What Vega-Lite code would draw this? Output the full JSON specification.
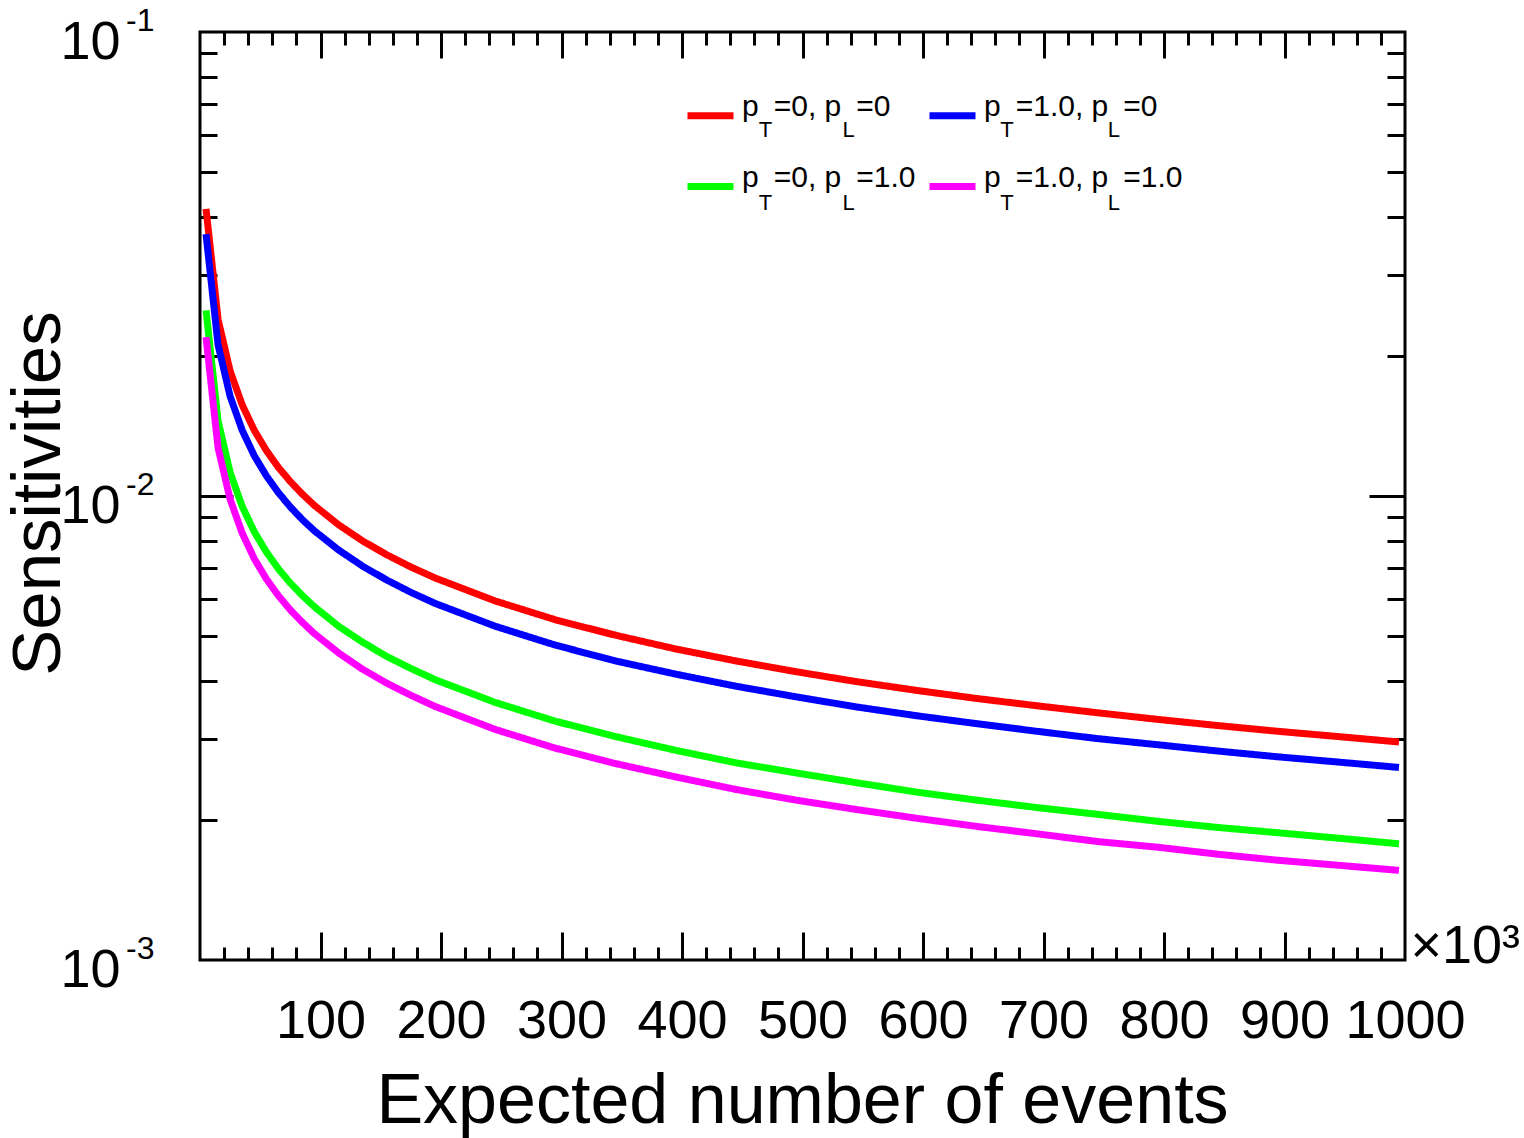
{
  "$schema": "https://vega.github.io/schema/vega-lite/v6.json",
  "width": 1205,
  "height": 928,
  "autosize": "none",
  "padding": {"left": 200, "top": 32, "right": 119, "bottom": 178},
  "background": "white",
  "config": {
    "font": "Liberation Sans",
    "view": {"stroke": "black", "strokeWidth": 3},
    "axis": {"labelColor": "black", "titleColor": "black", "titleFontWeight": "normal", "tickColor": "black", "tickWidth": 3, "grid": false, "labelFont": "Liberation Sans", "titleFont": "Liberation Sans", "domain": false},
    "legend": {"labelColor": "black", "labelFont": "Liberation Sans", "padding": 0}
  },
  "data": {"values": [
    {"n":5,"s":0.04159,"g":"pT=0, pL=0","id":"a"},{"n":15,"s":0.02401,"g":"pT=0, pL=0","id":"a"},{"n":25,"s":0.01860,"g":"pT=0, pL=0","id":"a"},{"n":35,"s":0.01572,"g":"pT=0, pL=0","id":"a"},{"n":45,"s":0.01386,"g":"pT=0, pL=0","id":"a"},{"n":55,"s":0.01254,"g":"pT=0, pL=0","id":"a"},{"n":65,"s":0.01153,"g":"pT=0, pL=0","id":"a"},{"n":75,"s":0.01074,"g":"pT=0, pL=0","id":"a"},{"n":85,"s":0.01009,"g":"pT=0, pL=0","id":"a"},{"n":95,"s":0.00954,"g":"pT=0, pL=0","id":"a"},{"n":115,"s":0.00867,"g":"pT=0, pL=0","id":"a"},{"n":135,"s":0.00800,"g":"pT=0, pL=0","id":"a"},{"n":155,"s":0.00747,"g":"pT=0, pL=0","id":"a"},{"n":175,"s":0.00703,"g":"pT=0, pL=0","id":"a"},{"n":195,"s":0.00666,"g":"pT=0, pL=0","id":"a"},{"n":245,"s":0.00594,"g":"pT=0, pL=0","id":"a"},{"n":295,"s":0.00541,"g":"pT=0, pL=0","id":"a"},{"n":345,"s":0.00501,"g":"pT=0, pL=0","id":"a"},{"n":395,"s":0.00468,"g":"pT=0, pL=0","id":"a"},{"n":445,"s":0.00441,"g":"pT=0, pL=0","id":"a"},{"n":495,"s":0.00418,"g":"pT=0, pL=0","id":"a"},{"n":545,"s":0.00398,"g":"pT=0, pL=0","id":"a"},{"n":595,"s":0.00381,"g":"pT=0, pL=0","id":"a"},{"n":645,"s":0.00366,"g":"pT=0, pL=0","id":"a"},{"n":695,"s":0.00353,"g":"pT=0, pL=0","id":"a"},{"n":745,"s":0.00341,"g":"pT=0, pL=0","id":"a"},{"n":795,"s":0.00330,"g":"pT=0, pL=0","id":"a"},{"n":845,"s":0.00320,"g":"pT=0, pL=0","id":"a"},{"n":895,"s":0.00311,"g":"pT=0, pL=0","id":"a"},{"n":945,"s":0.00303,"g":"pT=0, pL=0","id":"a"},{"n":995,"s":0.00295,"g":"pT=0, pL=0","id":"a"},
    {"n":5,"s":0.03667,"g":"pT=1.0, pL=0","id":"b"},{"n":15,"s":0.02117,"g":"pT=1.0, pL=0","id":"b"},{"n":25,"s":0.01640,"g":"pT=1.0, pL=0","id":"b"},{"n":35,"s":0.01386,"g":"pT=1.0, pL=0","id":"b"},{"n":45,"s":0.01222,"g":"pT=1.0, pL=0","id":"b"},{"n":55,"s":0.01106,"g":"pT=1.0, pL=0","id":"b"},{"n":65,"s":0.01017,"g":"pT=1.0, pL=0","id":"b"},{"n":75,"s":0.00947,"g":"pT=1.0, pL=0","id":"b"},{"n":85,"s":0.00889,"g":"pT=1.0, pL=0","id":"b"},{"n":95,"s":0.00841,"g":"pT=1.0, pL=0","id":"b"},{"n":115,"s":0.00765,"g":"pT=1.0, pL=0","id":"b"},{"n":135,"s":0.00706,"g":"pT=1.0, pL=0","id":"b"},{"n":155,"s":0.00659,"g":"pT=1.0, pL=0","id":"b"},{"n":175,"s":0.00620,"g":"pT=1.0, pL=0","id":"b"},{"n":195,"s":0.00587,"g":"pT=1.0, pL=0","id":"b"},{"n":245,"s":0.00524,"g":"pT=1.0, pL=0","id":"b"},{"n":295,"s":0.00477,"g":"pT=1.0, pL=0","id":"b"},{"n":345,"s":0.00441,"g":"pT=1.0, pL=0","id":"b"},{"n":395,"s":0.00413,"g":"pT=1.0, pL=0","id":"b"},{"n":445,"s":0.00389,"g":"pT=1.0, pL=0","id":"b"},{"n":495,"s":0.00369,"g":"pT=1.0, pL=0","id":"b"},{"n":545,"s":0.00351,"g":"pT=1.0, pL=0","id":"b"},{"n":595,"s":0.00336,"g":"pT=1.0, pL=0","id":"b"},{"n":645,"s":0.00323,"g":"pT=1.0, pL=0","id":"b"},{"n":695,"s":0.00311,"g":"pT=1.0, pL=0","id":"b"},{"n":745,"s":0.00300,"g":"pT=1.0, pL=0","id":"b"},{"n":795,"s":0.00291,"g":"pT=1.0, pL=0","id":"b"},{"n":845,"s":0.00282,"g":"pT=1.0, pL=0","id":"b"},{"n":895,"s":0.00274,"g":"pT=1.0, pL=0","id":"b"},{"n":945,"s":0.00267,"g":"pT=1.0, pL=0","id":"b"},{"n":995,"s":0.00260,"g":"pT=1.0, pL=0","id":"b"},
    {"n":5,"s":0.02513,"g":"pT=0, pL=1.0","id":"c"},{"n":15,"s":0.01451,"g":"pT=0, pL=1.0","id":"c"},{"n":25,"s":0.01124,"g":"pT=0, pL=1.0","id":"c"},{"n":35,"s":0.00950,"g":"pT=0, pL=1.0","id":"c"},{"n":45,"s":0.00838,"g":"pT=0, pL=1.0","id":"c"},{"n":55,"s":0.00758,"g":"pT=0, pL=1.0","id":"c"},{"n":65,"s":0.00697,"g":"pT=0, pL=1.0","id":"c"},{"n":75,"s":0.00649,"g":"pT=0, pL=1.0","id":"c"},{"n":85,"s":0.00610,"g":"pT=0, pL=1.0","id":"c"},{"n":95,"s":0.00577,"g":"pT=0, pL=1.0","id":"c"},{"n":115,"s":0.00524,"g":"pT=0, pL=1.0","id":"c"},{"n":135,"s":0.00484,"g":"pT=0, pL=1.0","id":"c"},{"n":155,"s":0.00451,"g":"pT=0, pL=1.0","id":"c"},{"n":175,"s":0.00425,"g":"pT=0, pL=1.0","id":"c"},{"n":195,"s":0.00402,"g":"pT=0, pL=1.0","id":"c"},{"n":245,"s":0.00359,"g":"pT=0, pL=1.0","id":"c"},{"n":295,"s":0.00327,"g":"pT=0, pL=1.0","id":"c"},{"n":345,"s":0.00303,"g":"pT=0, pL=1.0","id":"c"},{"n":395,"s":0.00283,"g":"pT=0, pL=1.0","id":"c"},{"n":445,"s":0.00266,"g":"pT=0, pL=1.0","id":"c"},{"n":495,"s":0.00253,"g":"pT=0, pL=1.0","id":"c"},{"n":545,"s":0.00241,"g":"pT=0, pL=1.0","id":"c"},{"n":595,"s":0.00230,"g":"pT=0, pL=1.0","id":"c"},{"n":645,"s":0.00221,"g":"pT=0, pL=1.0","id":"c"},{"n":695,"s":0.00213,"g":"pT=0, pL=1.0","id":"c"},{"n":745,"s":0.00206,"g":"pT=0, pL=1.0","id":"c"},{"n":795,"s":0.00199,"g":"pT=0, pL=1.0","id":"c"},{"n":845,"s":0.00193,"g":"pT=0, pL=1.0","id":"c"},{"n":895,"s":0.00188,"g":"pT=0, pL=1.0","id":"c"},{"n":945,"s":0.00183,"g":"pT=0, pL=1.0","id":"c"},{"n":995,"s":0.00178,"g":"pT=0, pL=1.0","id":"c"},
    {"n":5,"s":0.02200,"g":"pT=1.0, pL=1.0","id":"d"},{"n":15,"s":0.01270,"g":"pT=1.0, pL=1.0","id":"d"},{"n":25,"s":0.00984,"g":"pT=1.0, pL=1.0","id":"d"},{"n":35,"s":0.00832,"g":"pT=1.0, pL=1.0","id":"d"},{"n":45,"s":0.00733,"g":"pT=1.0, pL=1.0","id":"d"},{"n":55,"s":0.00663,"g":"pT=1.0, pL=1.0","id":"d"},{"n":65,"s":0.00610,"g":"pT=1.0, pL=1.0","id":"d"},{"n":75,"s":0.00568,"g":"pT=1.0, pL=1.0","id":"d"},{"n":85,"s":0.00534,"g":"pT=1.0, pL=1.0","id":"d"},{"n":95,"s":0.00505,"g":"pT=1.0, pL=1.0","id":"d"},{"n":115,"s":0.00459,"g":"pT=1.0, pL=1.0","id":"d"},{"n":135,"s":0.00423,"g":"pT=1.0, pL=1.0","id":"d"},{"n":155,"s":0.00395,"g":"pT=1.0, pL=1.0","id":"d"},{"n":175,"s":0.00372,"g":"pT=1.0, pL=1.0","id":"d"},{"n":195,"s":0.00352,"g":"pT=1.0, pL=1.0","id":"d"},{"n":245,"s":0.00314,"g":"pT=1.0, pL=1.0","id":"d"},{"n":295,"s":0.00286,"g":"pT=1.0, pL=1.0","id":"d"},{"n":345,"s":0.00265,"g":"pT=1.0, pL=1.0","id":"d"},{"n":395,"s":0.00248,"g":"pT=1.0, pL=1.0","id":"d"},{"n":445,"s":0.00233,"g":"pT=1.0, pL=1.0","id":"d"},{"n":495,"s":0.00221,"g":"pT=1.0, pL=1.0","id":"d"},{"n":545,"s":0.00211,"g":"pT=1.0, pL=1.0","id":"d"},{"n":595,"s":0.00202,"g":"pT=1.0, pL=1.0","id":"d"},{"n":645,"s":0.00194,"g":"pT=1.0, pL=1.0","id":"d"},{"n":695,"s":0.00187,"g":"pT=1.0, pL=1.0","id":"d"},{"n":745,"s":0.00180,"g":"pT=1.0, pL=1.0","id":"d"},{"n":795,"s":0.00175,"g":"pT=1.0, pL=1.0","id":"d"},{"n":845,"s":0.00169,"g":"pT=1.0, pL=1.0","id":"d"},{"n":895,"s":0.00164,"g":"pT=1.0, pL=1.0","id":"d"},{"n":945,"s":0.00160,"g":"pT=1.0, pL=1.0","id":"d"},{"n":995,"s":0.00156,"g":"pT=1.0, pL=1.0","id":"d"}
  ]},
  "resolve": {"axis": {"x": "independent", "y": "independent"}},
  "layer": [
    {
      "mark": {"type": "line", "strokeWidth": 7, "strokeCap": "butt", "clip": true},
      "encoding": {
        "x": {"field": "n", "type": "quantitative", "scale": {"domain": [0, 1000], "nice": false, "zero": false},
          "axis": {"orient": "bottom", "values": [100,200,300,400,500,600,700,800,900,1000], "format": "d", "ticks": false, "labelFontSize": 54, "labelPadding": 77, "labelBaseline": "alphabetic", "labelFlush": false, "labelOverlap": false, "title": "Expected number of events", "titleFontSize": 70, "titleBaseline": "alphabetic", "titleY": 162, "titleX": 602}},
        "y": {"field": "s", "type": "quantitative", "scale": {"type": "log", "domain": [0.001, 0.1], "nice": false},
          "axis": {"orient": "left", "values": [0.001, 0.01, 0.1], "labelExpr": "'10'", "ticks": false, "labelFontSize": 54, "labelPadding": 80, "labelAlign": "right", "labelBaseline": "alphabetic", "labelOffset": 26, "labelFlush": false, "labelOverlap": false, "title": "Sensitivities", "titleFontSize": 69, "titleAngle": -90, "titleBaseline": "alphabetic", "titleAlign": "center", "titleX": -141, "titleY": 461}},
        "color": {"field": "g", "type": "nominal",
          "scale": {"domain": ["pT=0, pL=0", "pT=0, pL=1.0", "pT=1.0, pL=0", "pT=1.0, pL=1.0"], "range": ["#ff0000", "#00ff00", "#0000ff", "#ff00ff"]},
          "legend": {"orient": "none", "legendX": 484, "legendY": 57, "columns": 2, "title": null, "symbolType": "stroke", "symbolSize": 2116, "symbolStrokeWidth": 7, "labelFontSize": 30, "labelOffset": 5, "columnPadding": -1, "rowPadding": 30, "labelBaseline": "alphabetic", "labelLimit": 600, "labelExpr": "replace(replace(datum.label, 'T', '\u2002'), 'L', '\u2002')"}},
        "strokeDash": {"field": "id", "type": "nominal",
          "scale": {"domain": ["a", "c", "b", "d"], "range": [[1, 0], [1, 0], [1, 0], [1, 0]]},
          "legend": {"orient": "none", "legendX": 484, "legendY": 78, "columns": 2, "title": null, "symbolType": "stroke", "symbolSize": 2116, "symbolStrokeWidth": 7, "symbolOpacity": 0, "labelFontSize": 22, "labelOffset": 21.7, "columnPadding": 70.5, "rowPadding": 42, "labelBaseline": "alphabetic", "labelLimit": 600, "labelExpr": "(datum.label == 'a' || datum.label == 'c') ? 'T\u2003\u2003\u2003\u2009L' : 'T\u2003\u2003\u2003\u2003 L'"}}
      }
    },
    {
      "mark": {"type": "line", "opacity": 0},
      "encoding": {
        "x": {"field": "n", "type": "quantitative", "scale": {"domain": [0, 1000], "nice": false, "zero": false},
          "axis": {"orient": "bottom", "values": [100,200,300,400,500,600,700,800,900], "labels": false, "tickSize": -28, "title": "×10³", "titleFontSize": 54, "titleAlign": "left", "titleBaseline": "alphabetic", "titleX": 1210, "titleY": 2, "titleAngle": 0}},
        "y": {"field": "s", "type": "quantitative", "scale": {"type": "log", "domain": [0.001, 0.1], "nice": false},
          "axis": {"orient": "left", "values": [0.001, 0.01, 0.1], "labelExpr": "'-' + round(-log(datum.value)/LN10)", "ticks": false, "labelFontSize": 32, "labelPadding": 46, "labelAlign": "right", "labelBaseline": "alphabetic", "labelOffset": -2, "labelFlush": false, "labelOverlap": false, "title": null}}
      }
    },
    {
      "mark": {"type": "line", "opacity": 0},
      "encoding": {
        "x": {"field": "n", "type": "quantitative", "scale": {"domain": [0, 1000], "nice": false, "zero": false},
          "axis": {"orient": "bottom", "values": [20,40,60,80,120,140,160,180,220,240,260,280,320,340,360,380,420,440,460,480,520,540,560,580,620,640,660,680,720,740,760,780,820,840,860,880,920,940,960,980], "labels": false, "tickSize": -13, "title": null}},
        "y": {"field": "s", "type": "quantitative", "scale": {"type": "log", "domain": [0.001, 0.1], "nice": false},
          "axis": {"orient": "left", "values": [0.01], "labels": false, "tickSize": -33, "title": null}}
      }
    },
    {
      "mark": {"type": "line", "opacity": 0},
      "encoding": {
        "x": {"field": "n", "type": "quantitative", "scale": {"domain": [0, 1000], "nice": false, "zero": false},
          "axis": {"orient": "top", "values": [100,200,300,400,500,600,700,800,900], "labels": false, "tickSize": -26, "title": null}},
        "y": {"field": "s", "type": "quantitative", "scale": {"type": "log", "domain": [0.001, 0.1], "nice": false},
          "axis": {"orient": "left", "values": [0.002,0.003,0.004,0.005,0.006,0.007,0.008,0.009,0.02,0.03,0.04,0.05,0.06,0.07,0.08,0.09], "labels": false, "tickSize": -17, "title": null}}
      }
    },
    {
      "mark": {"type": "line", "opacity": 0},
      "encoding": {
        "x": {"field": "n", "type": "quantitative", "scale": {"domain": [0, 1000], "nice": false, "zero": false},
          "axis": {"orient": "top", "values": [20,40,60,80,120,140,160,180,220,240,260,280,320,340,360,380,420,440,460,480,520,540,560,580,620,640,660,680,720,740,760,780,820,840,860,880,920,940,960,980], "labels": false, "tickSize": -13, "title": null}},
        "y": {"field": "s", "type": "quantitative", "scale": {"type": "log", "domain": [0.001, 0.1], "nice": false},
          "axis": {"orient": "right", "values": [0.01], "labels": false, "tickSize": -36, "title": null}}
      }
    },
    {
      "mark": {"type": "line", "opacity": 0},
      "encoding": {
        "x": {"field": "n", "type": "quantitative", "scale": {"domain": [0, 1000], "nice": false, "zero": false}, "axis": null},
        "y": {"field": "s", "type": "quantitative", "scale": {"type": "log", "domain": [0.001, 0.1], "nice": false},
          "axis": {"orient": "right", "values": [0.002,0.003,0.004,0.005,0.006,0.007,0.008,0.009,0.02,0.03,0.04,0.05,0.06,0.07,0.08,0.09], "labels": false, "tickSize": -18, "title": null}}
      }
    }
  ]
}
